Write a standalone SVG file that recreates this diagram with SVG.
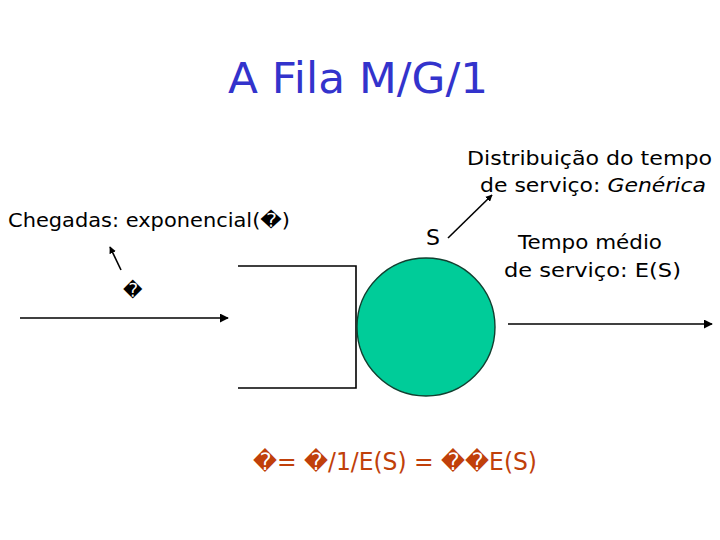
<svg xmlns="http://www.w3.org/2000/svg" width="720" height="540" viewBox="0 0 720 540">
<style>
text{font-family:"DejaVu Sans","Liberation Sans",sans-serif;fill:#000}
.lbl{font-size:19px}
.ln{stroke:#000;stroke-width:1.6;fill:none}
</style>
<defs>
<marker id="ah" viewBox="0 0 10 10" refX="9" refY="5" markerWidth="7" markerHeight="7" orient="auto" markerUnits="userSpaceOnUse">
<path d="M0,0 L10,5 L0,10 z" fill="#000"/>
</marker>
<marker id="ah2" viewBox="0 0 10 10" refX="9" refY="5" markerWidth="9" markerHeight="9" orient="auto" markerUnits="userSpaceOnUse">
<path d="M0,0 L10,5 L0,10 z" fill="#000"/>
</marker>
</defs>
<rect width="720" height="540" fill="#fff"/>
<g id="title"><text x="228" y="93" textLength="260" lengthAdjust="spacingAndGlyphs" style="font-size:42px;fill:#3333CC">A Fila M/G/1</text></g>
<g id="arrivals"><text class="lbl" x="8" y="227" textLength="282" lengthAdjust="spacingAndGlyphs">Chegadas: exponencial(�)</text>
<text class="lbl" x="123" y="297">�</text></g>
<g id="queue"><path class="ln" d="M238,266 H356 V388 H238" stroke-width="1.4"/></g>
<g id="server"><circle cx="426" cy="327" r="69" fill="#00CC99" stroke="#104030" stroke-width="1.4"/>
<text x="426" y="245" style="font-size:22px">S</text></g>
<g id="service-dist"><text class="lbl" x="467" y="165" textLength="245" lengthAdjust="spacingAndGlyphs">Distribuição do tempo</text>
<text class="lbl" x="480" y="192" textLength="226" lengthAdjust="spacingAndGlyphs">de serviço: <tspan font-style="italic">Genérica</tspan></text></g>
<g id="service-mean"><text class="lbl" x="518" y="249" textLength="144" lengthAdjust="spacingAndGlyphs">Tempo médio</text>
<text class="lbl" x="504" y="277" textLength="177" lengthAdjust="spacingAndGlyphs">de serviço: E(S)</text></g>
<g id="formula"><text x="253" y="470" textLength="284" lengthAdjust="spacingAndGlyphs" style="font-size:24px;fill:#C0400A">�= �/1/E(S) = ��E(S)</text></g>
<g id="connectors">
<line class="ln" x1="121" y1="270" x2="110" y2="247" marker-end="url(#ah)"/>
<line class="ln" x1="20" y1="318" x2="228" y2="318" marker-end="url(#ah2)"/>
<line class="ln" x1="508" y1="324" x2="712" y2="324" marker-end="url(#ah2)"/>
<line class="ln" x1="448" y1="238" x2="492" y2="195" marker-end="url(#ah)"/>
</g>
</svg>
